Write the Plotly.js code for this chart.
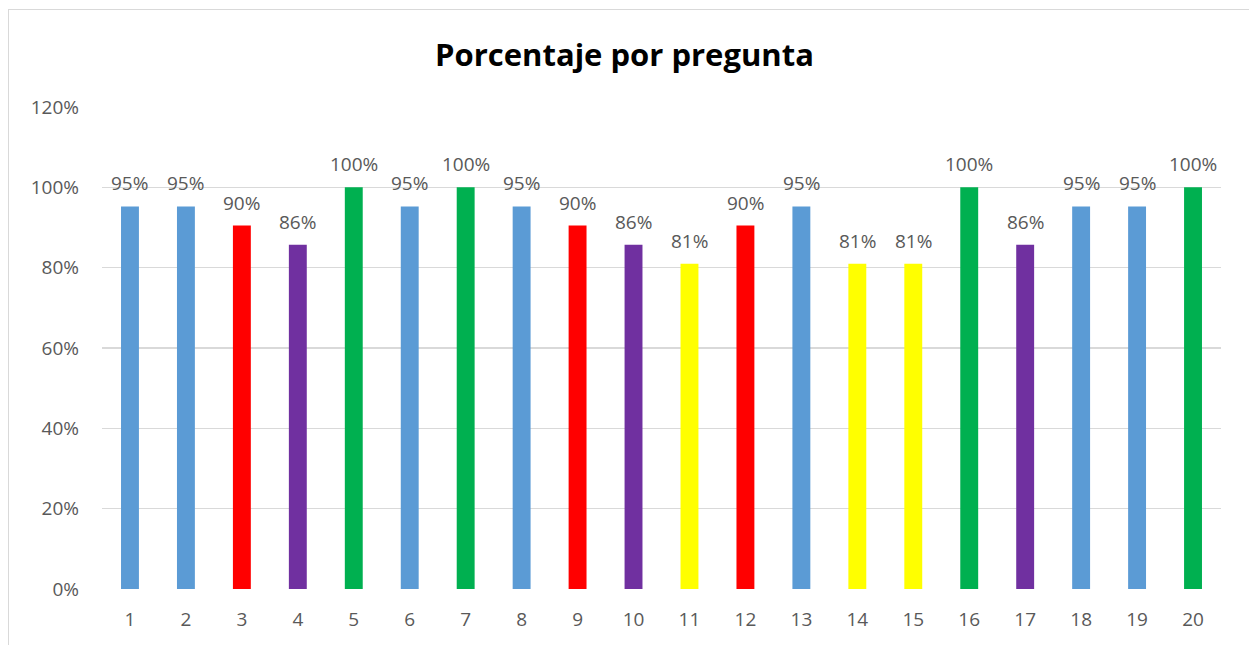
<!DOCTYPE html>
<html>
<head>
<meta charset="utf-8">
<script src="https://cdn.plot.ly/plotly-3.0.1.min.js"></script>
<style>
html,body{margin:0;padding:0;background:#fff;overflow:hidden;}
#wrap{position:relative;width:1249px;height:645px;}
#chart{width:1249px;height:645px;}
#frame{position:absolute;left:8px;top:9px;width:1300px;height:700px;border:1.5px solid #d9d9d9;pointer-events:none;box-sizing:border-box;}
</style>
</head>
<body>
<div id="wrap"><div id="chart"></div><div id="frame"></div></div>
<script>
const categories = ["1","2","3","4","5","6","7","8","9","10","11","12","13","14","15","16","17","18","19","20"];
const values = [0.9524,0.9524,0.9048,0.8571,1.0,0.9524,1.0,0.9524,0.9048,0.8571,0.8095,0.9048,0.9524,0.8095,0.8095,1.0,0.8571,0.9524,0.9524,1.0];
const barColors = ["#5B9BD5","#5B9BD5","#FF0000","#7030A0","#00B050","#5B9BD5","#00B050","#5B9BD5","#FF0000","#7030A0","#FFFF00","#FF0000","#5B9BD5","#FFFF00","#FFFF00","#00B050","#7030A0","#5B9BD5","#5B9BD5","#00B050"];
const yTickVals = [0,0.2,0.4,0.6,0.8,1.0,1.2];
const yTickText = ["0%","20%","40%","60%","80%","100%","120%"];
const chartTitle = "Porcentaje por pregunta";

const font = "'Open Sans', sans-serif";
const labelAnnotations = categories.map((c, i) => ({
  x: i, y: values[i], xref: "x", yref: "y",
  text: Math.round(values[i] * 100) + "%",
  showarrow: false, yanchor: "bottom", xanchor: "center", yshift: 8,
  font: {family: font, size: 19, color: "#595959"}
}));

Plotly.newPlot("chart", [{
  type: "bar",
  x: categories,
  y: values,
  marker: {color: barColors},
  hoverinfo: "none"
}], {
  width: 1249, height: 645,
  margin: {l: 102, r: 28, t: 107, b: 56},
  paper_bgcolor: "#fff", plot_bgcolor: "#fff",
  bargap: 0.68,
  showlegend: false,
  annotations: labelAnnotations,
  title: {text: "<b>" + chartTitle + "</b>", x: 0.5, xanchor: "center", y: 0.915, yanchor: "middle",
          font: {family: font, size: 31, color: "#000"}},
  xaxis: {type: "category", range: [-0.5, categories.length - 0.5], showgrid: false, showline: false, zeroline: false, ticks: "",
          tickfont: {family: font, size: 19, color: "#595959"}, ticklabelstandoff: 17},
  yaxis: {range: [0, 1.2], tickvals: yTickVals, ticktext: yTickText, showgrid: true,
          gridcolor: "#d9d9d9", gridwidth: 1.5, zeroline: false, showline: false, ticks: "",
          tickfont: {family: font, size: 19, color: "#595959"}, ticklabelstandoff: 22}
}, {staticPlot: true});
</script>
</body>
</html>
